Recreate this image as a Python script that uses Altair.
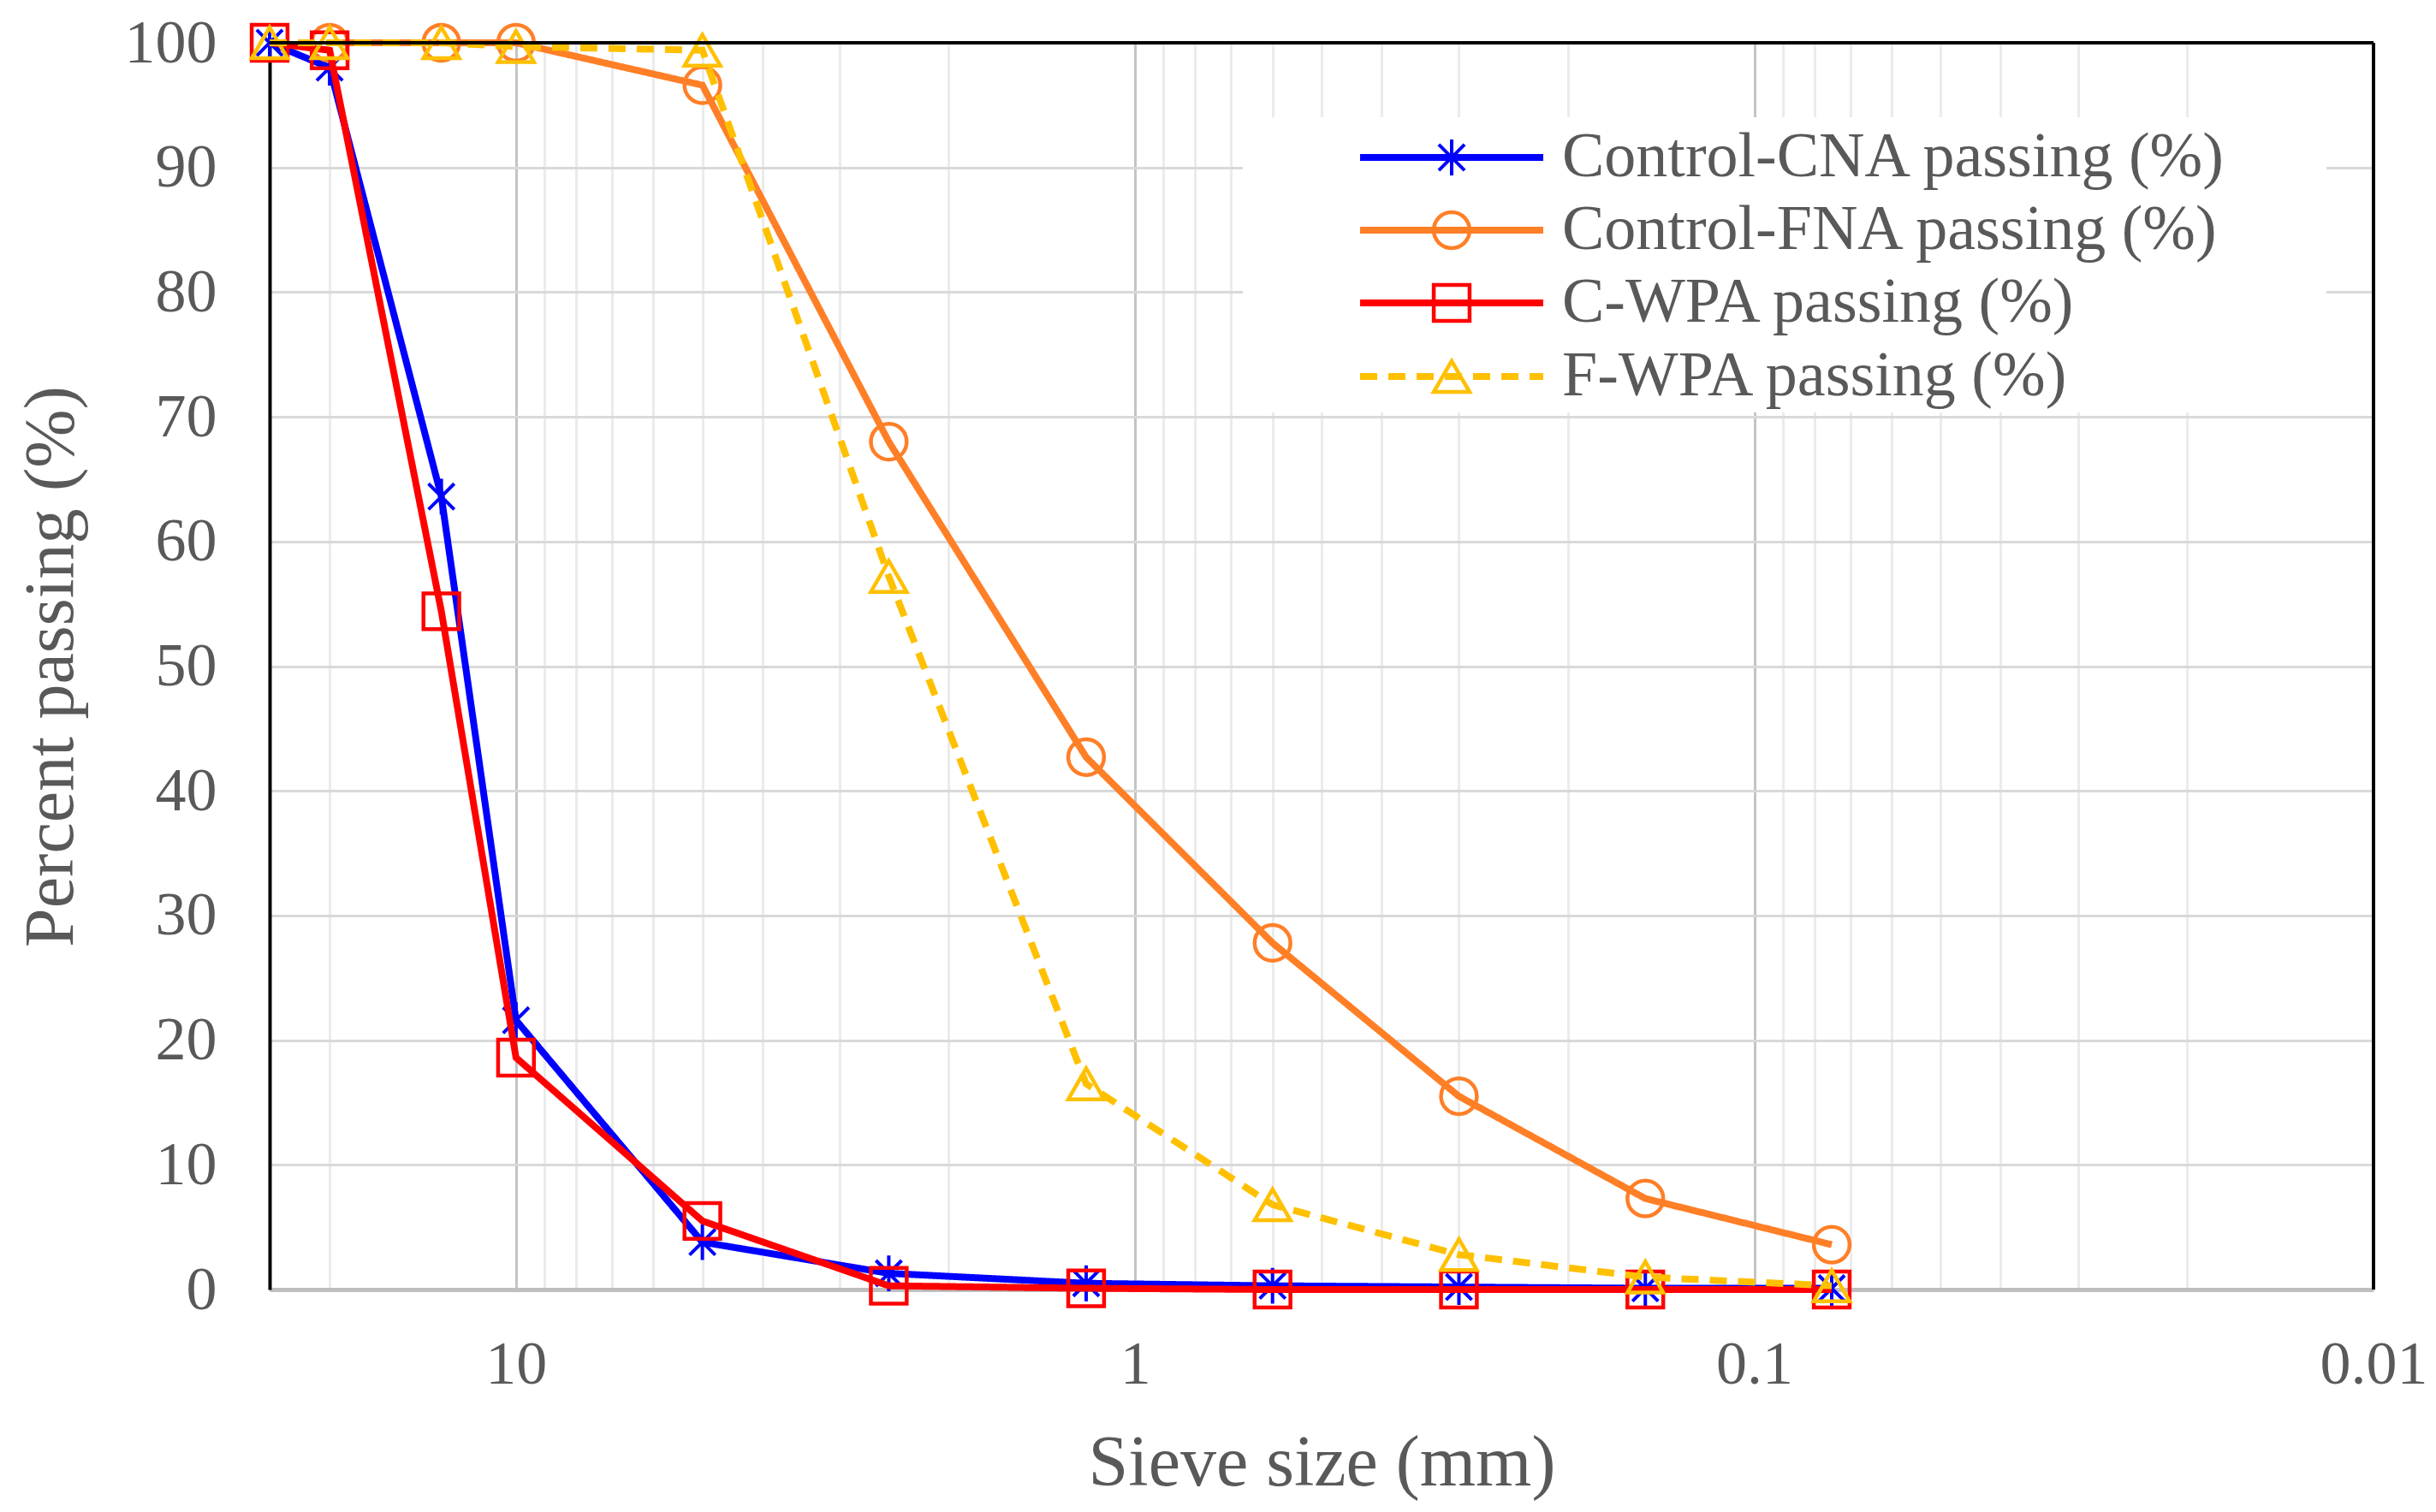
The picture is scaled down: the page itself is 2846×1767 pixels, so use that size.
import altair as alt
import pandas as pd

# ---- data ----
sieve_mm = [25, 20, 13.2, 10, 5, 2.5, 1.2, 0.6, 0.3, 0.15, 0.075]
cna_pass = [100, 98.0, 63.6, 21.6, 3.8, 1.3, 0.5, 0.3, 0.2, 0.1, 0.1]
fna_pass = [None, 100, 100, 100, 96.6, 68.0, 42.7, 27.8, 15.5, 7.3, 3.6]
cwpa_pass = [100, 99.4, 54.4, 18.6, 5.5, 0.3, 0.1, 0.0, 0.0, 0.0, 0.0]
fwpa_pass = [100, 100, 100, 99.7, 99.4, 57.2, 16.5, 6.8, 2.8, 1.0, 0.3]

series_names = [
    "Control-CNA passing (%)",
    "Control-FNA passing (%)",
    "C-WPA passing (%)",
    "F-WPA passing (%)",
]
series_values = [cna_pass, fna_pass, cwpa_pass, fwpa_pass]

x_grid_values = [20, 10, 9, 8, 7, 6, 5, 4, 3, 2, 1,
                 0.9, 0.8, 0.7, 0.6, 0.5, 0.4, 0.3, 0.2, 0.1,
                 0.09, 0.08, 0.07, 0.06, 0.05, 0.04, 0.03, 0.02, 0.01]
y_ticks = [0, 10, 20, 30, 40, 50, 60, 70, 80, 90, 100]

# ---- styles ----
colors = ["#0000FF", "#FF7F27", "#FF0000", "#FFC000"]
star = "M0,-1L0,1M-0.72,-0.72L0.72,0.72M-0.72,0.72L0.72,-0.72"
shapes = [star, "circle", "square", "triangle-up"]
dashes = [[1, 0], [1, 0], [1, 0], [20, 13]]
FONT = "Liberation Serif"
TXT = "#595959"
W, H = 2458, 1457

major = ("(datum.value == 10 || datum.value == 1 || "
         "datum.value == 0.1 || datum.value == 0.01)")

x_enc = alt.X(
    "size:Q",
    scale=alt.Scale(type="log", domain=[0.01, 25], reverse=True, nice=False),
    axis=alt.Axis(
        title="Sieve size (mm)",
        values=x_grid_values,
        labelExpr=major + " ? datum.value + '' : ''",
        labelOverlap=False,
        labelFlush=False,
        labelFont=FONT, labelFontSize=72, labelColor=TXT, labelPadding=52,
        ticks=False,
        domainColor="#bfbfbf", domainWidth=5,
        grid=True,
        gridColor={"condition": {"test": major, "value": "#c4c4c4"}, "value": "#ebebeb"},
        gridWidth=3,
        titleFont=FONT, titleFontSize=84, titleColor=TXT, titleFontWeight="normal",
        titleBaseline="alphabetic", titleY=228,
    ),
)
y_enc = alt.Y(
    "pct:Q",
    scale=alt.Scale(domain=[0, 100], nice=False),
    axis=alt.Axis(
        title="Percent passing (%)",
        values=y_ticks,
        labelFont=FONT, labelFontSize=72, labelColor=TXT, labelPadding=62,
        ticks=False,
        domainColor="#000000", domainWidth=4,
        grid=True, gridColor="#d9d9d9", gridWidth=3,
        titleFont=FONT, titleFontSize=82, titleColor=TXT, titleFontWeight="normal",
        titleBaseline="alphabetic", titleAngle=-90, titleX=-231, titleY=H / 2,
        titleAlign="center",
    ),
)

layers = []

# white legend background (drawn above the grid)
layers.append(
    alt.Chart(pd.DataFrame({"k": [0]})).mark_rect(fill="white").encode(
        x=alt.value(1137), x2=alt.value(2403), y=alt.value(87), y2=alt.value(432)
    )
)

for name, vals, col, shp, dsh in zip(series_names, series_values, colors, shapes, dashes):
    rows = [(s, v) for s, v in zip(sieve_mm, vals) if v is not None]
    df = pd.DataFrame({"size": [r[0] for r in rows], "pct": [r[1] for r in rows]})
    base = alt.Chart(df).encode(x=x_enc, y=y_enc)
    layers.append(base.mark_line(color=col, strokeWidth=8, strokeDash=dsh))
    layers.append(
        base.mark_point(shape=shp, size=1750, filled=False, color=col,
                        strokeWidth=4 if shp == star else 4.5, opacity=1)
    )

# manual legend
row_y = [134, 219, 304, 390]
for name, col, shp, dsh, yy in zip(series_names, colors, shapes, dashes, row_y):
    one = alt.Chart(pd.DataFrame({"k": [0]}))
    layers.append(one.mark_rule(color=col, strokeWidth=8, strokeDash=dsh).encode(
        x=alt.value(1274), x2=alt.value(1488), y=alt.value(yy)))
    layers.append(one.mark_point(shape=shp, size=1750, filled=False, color=col,
                                 strokeWidth=4 if shp == star else 4.5, opacity=1).encode(
        x=alt.value(1381), y=alt.value(yy)))
    layers.append(one.mark_text(align="left", baseline="middle", font=FONT,
                                fontSize=74, color=TXT).encode(
        x=alt.value(1510), y=alt.value(yy), text=alt.value(name)))

# plot border (top / right)
one = alt.Chart(pd.DataFrame({"k": [0]}))
layers.append(one.mark_rule(color="black", strokeWidth=4).encode(
    x=alt.value(0), x2=alt.value(W), y=alt.value(0)))
layers.append(one.mark_rule(color="black", strokeWidth=4).encode(
    x=alt.value(W), y=alt.value(0), y2=alt.value(H)))

chart = alt.layer(*layers).properties(
    width=W, height=H,
    autosize=alt.AutoSizeParams(type="none"),
    padding={"left": 307, "top": 42, "right": 65, "bottom": 252},
    background="white",
).configure_view(stroke=None)

chart.save("out.html", embed_options={"renderer": "svg", "actions": False})
